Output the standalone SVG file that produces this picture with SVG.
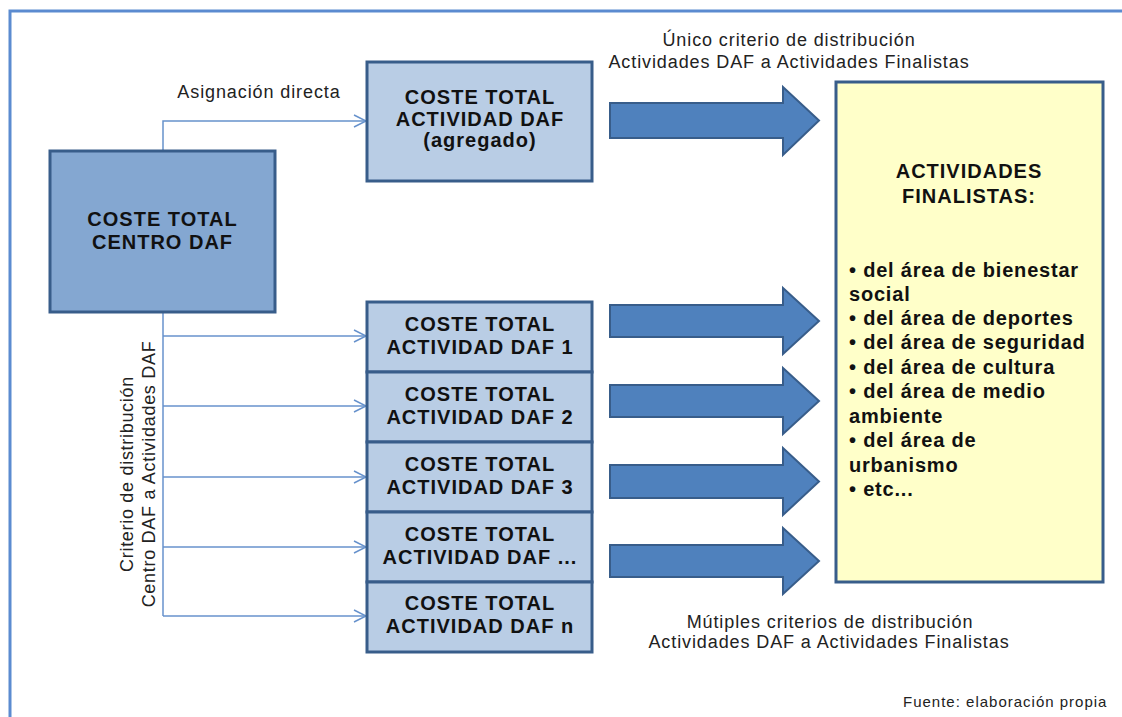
<svg xmlns="http://www.w3.org/2000/svg" width="1122" height="717" viewBox="0 0 1122 717">
<defs>
<style>
.frame{fill:none;stroke:#5b8bd0;stroke-width:3}
.box{stroke:#385d8a;stroke-width:3}
.main{fill:#84a7d1}
.act{fill:#b9cde5}
.fin{fill:#ffffc9}
.bt{font-family:"Liberation Sans",Arial,sans-serif;font-weight:bold;font-size:20px;letter-spacing:1px;fill:#111;text-anchor:middle}
.lt{font-family:"Liberation Sans",Arial,sans-serif;font-weight:bold;font-size:20px;letter-spacing:0.8px;fill:#111}
.nt{font-family:"Liberation Sans",Arial,sans-serif;font-size:18px;letter-spacing:0.9px;fill:#222;text-anchor:middle}
.src{font-family:"Liberation Sans",Arial,sans-serif;font-size:15px;letter-spacing:1px;fill:#222}
.conn{fill:none;stroke:#6792cc;stroke-width:1.5}
.big{fill:#4f81bd;stroke:#385d8a;stroke-width:2}
</style>
<marker id="open" markerUnits="userSpaceOnUse" markerWidth="16" markerHeight="16" refX="13" refY="7" orient="auto">
<path d="M1,1 L13,7 L1,13" fill="none" stroke="#6792cc" stroke-width="1.5"/>
</marker>
</defs>
<rect class="frame" x="10" y="11" width="1200" height="800"/>

<g id="connectors">
<path class="conn" d="M163,151 V121 H366" marker-end="url(#open)"/>
<path class="conn" d="M163,312 V616"/>
<path class="conn" d="M163,336 H366" marker-end="url(#open)"/>
<path class="conn" d="M163,406 H366" marker-end="url(#open)"/>
<path class="conn" d="M163,477 H366" marker-end="url(#open)"/>
<path class="conn" d="M163,547 H366" marker-end="url(#open)"/>
<path class="conn" d="M163,616 H366" marker-end="url(#open)"/>
<polygon class="big" points="610,103 783,103 783,87 819,120.5 783,155 783,138 610,138"/>
<polygon class="big" points="610,305 783,305 783,288 819,321 783,354 783,337 610,337"/>
<polygon class="big" points="610,385 783,385 783,368 819,401 783,434 783,417 610,417"/>
<polygon class="big" points="610,465 783,465 783,448 819,481.5 783,515 783,498 610,498"/>
<polygon class="big" points="610,545 783,545 783,528 819,561 783,594 783,577 610,577"/>
</g>

<g id="labels">
<text class="nt" x="259" y="98">Asignación directa</text>
<text class="nt" x="789" y="46">Único criterio de distribución</text>
<text class="nt" x="789" y="68">Actividades DAF a Actividades Finalistas</text>
<text class="nt" x="830" y="628">Mútiples criterios de distribución</text>
<text class="nt" x="829" y="648">Actividades DAF a Actividades Finalistas</text>
<text class="nt" transform="translate(133,474) rotate(-90)" style="letter-spacing:0.7px">Criterio de distribución</text>
<text class="nt" transform="translate(155,474) rotate(-90)" style="letter-spacing:0.7px">Centro DAF a Actividades DAF</text>
<text class="src" x="903" y="707">Fuente: elaboración propia</text>
</g>

<g id="centro">
<rect class="box main" x="50" y="151" width="225" height="161"/>
<text class="bt" x="162.5" y="226">COSTE TOTAL</text>
<text class="bt" x="162.5" y="249">CENTRO DAF</text>
</g>

<g id="agregado">
<rect class="box act" x="367" y="62" width="225" height="119"/>
<text class="bt" x="480" y="104">COSTE TOTAL</text>
<text class="bt" x="480" y="126">ACTIVIDAD DAF</text>
<text class="bt" x="480" y="147">(agregado)</text>
</g>

<g id="act1">
<rect class="box act" x="367" y="302" width="225" height="70"/>
<text class="bt" x="480" y="331">COSTE TOTAL</text>
<text class="bt" x="480" y="354">ACTIVIDAD DAF 1</text>
</g>
<g id="act2">
<rect class="box act" x="367" y="372" width="225" height="70"/>
<text class="bt" x="480" y="401">COSTE TOTAL</text>
<text class="bt" x="480" y="424">ACTIVIDAD DAF 2</text>
</g>
<g id="act3">
<rect class="box act" x="367" y="442" width="225" height="70"/>
<text class="bt" x="480" y="471">COSTE TOTAL</text>
<text class="bt" x="480" y="494">ACTIVIDAD DAF 3</text>
</g>
<g id="actx">
<rect class="box act" x="367" y="512" width="225" height="70"/>
<text class="bt" x="480" y="541">COSTE TOTAL</text>
<text class="bt" x="480" y="564">ACTIVIDAD DAF ...</text>
</g>
<g id="actn">
<rect class="box act" x="367" y="582" width="225" height="70"/>
<text class="bt" x="480" y="610">COSTE TOTAL</text>
<text class="bt" x="480" y="633">ACTIVIDAD DAF n</text>
</g>

<g id="finalistas">
<rect class="box fin" x="836" y="82" width="267" height="500"/>
<text class="bt" x="969" y="178">ACTIVIDADES</text>
<text class="bt" x="969" y="203">FINALISTAS:</text>
<text class="lt" x="849" y="277">• del área de bienestar</text>
<text class="lt" x="849" y="301">social</text>
<text class="lt" x="849" y="325">• del área de deportes</text>
<text class="lt" x="849" y="349">• del área de seguridad</text>
<text class="lt" x="849" y="374">• del área de cultura</text>
<text class="lt" x="849" y="398">• del área de medio</text>
<text class="lt" x="849" y="423">ambiente</text>
<text class="lt" x="849" y="447">• del área de</text>
<text class="lt" x="849" y="472">urbanismo</text>
<text class="lt" x="849" y="496">• etc...</text>
</g>
</svg>
